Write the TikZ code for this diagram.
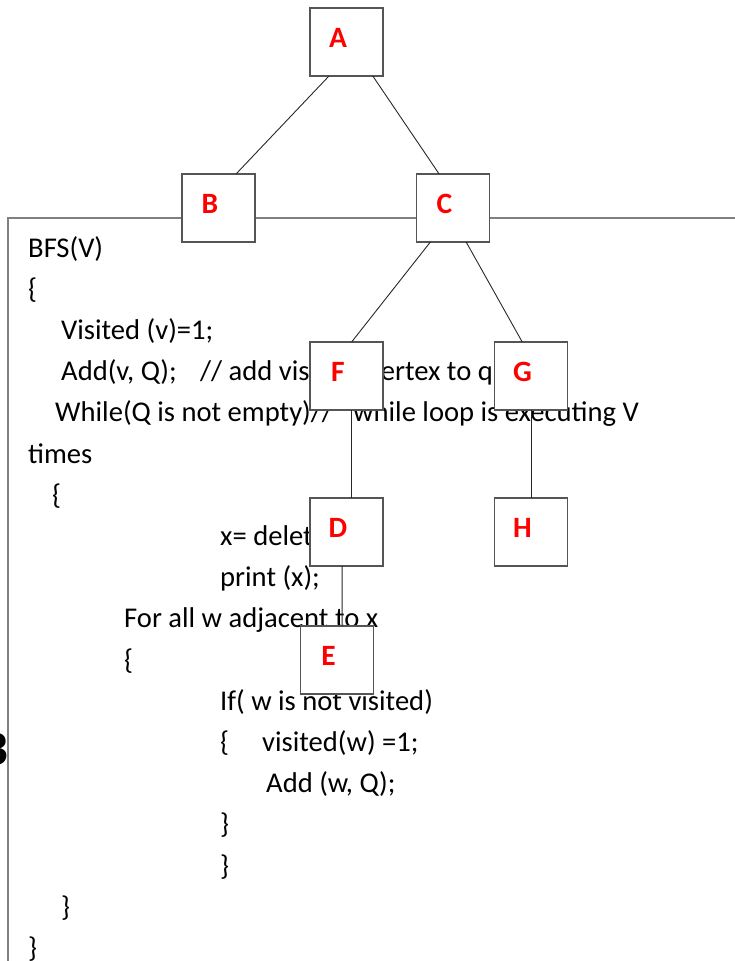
\documentclass[tikz,border=0pt]{standalone}
\usepackage{fontspec}
\setmainfont{Carlito}
\usetikzlibrary{calc}
\definecolor{boxgray}{RGB}{85,85,85}
\definecolor{framegray}{RGB}{128,128,128}
\definecolor{edgegray}{RGB}{40,40,40}
\begin{document}
\begin{tikzpicture}[x=1pt,y=-1pt,
  box/.style={draw=boxgray,line width=1.2pt,fill=white,minimum width=73pt,minimum height=68pt,inner sep=0pt,outer sep=0pt},
  lbl/.style={text=red,font=\fontsize{29.5}{30}\selectfont\bfseries,inner sep=0pt},
  code/.style={anchor=base west,inner sep=0pt,font=\fontsize{28.6}{30}\selectfont},
  edge/.style={draw=edgegray,line width=0.9pt},
  frame/.style={draw=framegray,line width=1.2pt}]
\useasboundingbox (0,0) rectangle (734,961);
% outer frame
\coordinate (fb) at (8,975);
\coordinate (fc) at (8,218);
\coordinate (fr) at (745,218);
\draw[frame] (fb) -- (fc) -- (fr);
% clipped letter at left edge
\node[anchor=base east,inner sep=0pt,font=\fontsize{50}{52}\selectfont\bfseries] (cut) at (9,765) {B};
% code text
\node[code] (l0) at (28,257) {BFS(V)};
\node[code] (l1) at (28,298.2) {\{};
\node[code] (l2) at (61,339.4) {Visited (v)=1;};
\node[code] (l3) at (61,380.6) {Add(v, Q);};
\node[code] (l3b) at (200,380.6) {// add visited\hspace{7pt} vertex to queue};
\node[code] (l4) at (55,421.8) {While(Q is not empty)//};
\node[code] (l4b) at (353,421.8) {while loop is executing V};
\node[code] (l5) at (28,463) {times};
\node[code] (l6) at (52,504.2) {\{};
\node[code] (l7) at (220,545.4) {x= delete(Q);};
\node[code] (l8) at (220,586.6) {print (x);};
\node[code] (l9) at (124,627.8) {For all w adjacent to x};
\node[code] (l10) at (124,669) {\{};
\node[code] (l11) at (220,710.2) {If( w is not visited)};
\node[code] (l12) at (220,751.4) {\{};
\node[code] (l12b) at (262,751.4) {visited(w) =1;};
\node[code] (l13) at (266,792.6) {Add (w, Q);};
\node[code] (l14) at (220,833.8) {\}};
\node[code] (l15) at (220,875) {\}};
\node[code] (l16) at (61,916.2) {\}};
\node[code] (l17) at (28,957.4) {\}};
% boxes
\node[box] (A) at (346.5,42) {};
\node[box] (B) at (218.5,208) {};
\node[box] (C) at (453,208) {};
\node[box] (F) at (346.5,376) {};
\node[box] (G) at (531,376) {};
\node[box] (D) at (346.5,532) {};
\node[box] (H) at (531,532) {};
\node[box] (E) at (337,660) {};
% edges
\draw[edge] ($(A.south west)!0.26!(A.south east)$) -- ($(B.north west)!0.74!(B.north east)$);
\draw[edge] ($(A.south west)!0.86!(A.south east)$) -- ($(C.north west)!0.31!(C.north east)$);
\draw[edge] ($(C.south west)!0.19!(C.south east)$) -- ($(F.north west)!0.57!(F.north east)$);
\draw[edge] ($(C.south west)!0.68!(C.south east)$) -- ($(G.north west)!0.38!(G.north east)$);
\draw[edge] ($(F.south west)!0.57!(F.south east)$) -- ($(D.north west)!0.57!(D.north east)$);
\draw[edge] ($(G.south west)!0.51!(G.south east)$) -- ($(H.north west)!0.51!(H.north east)$);
\draw[edge] ($(D.south west)!0.44!(D.south east)$) -- ($(E.north west)!0.57!(E.north east)$);
% labels
\foreach \n in {A,B,C,D,E,F,G,H}{
  \node[lbl] (lab\n) at ($(\n.north west)+(28,29.5)$) {\n};
}
\end{tikzpicture}
\end{document}
